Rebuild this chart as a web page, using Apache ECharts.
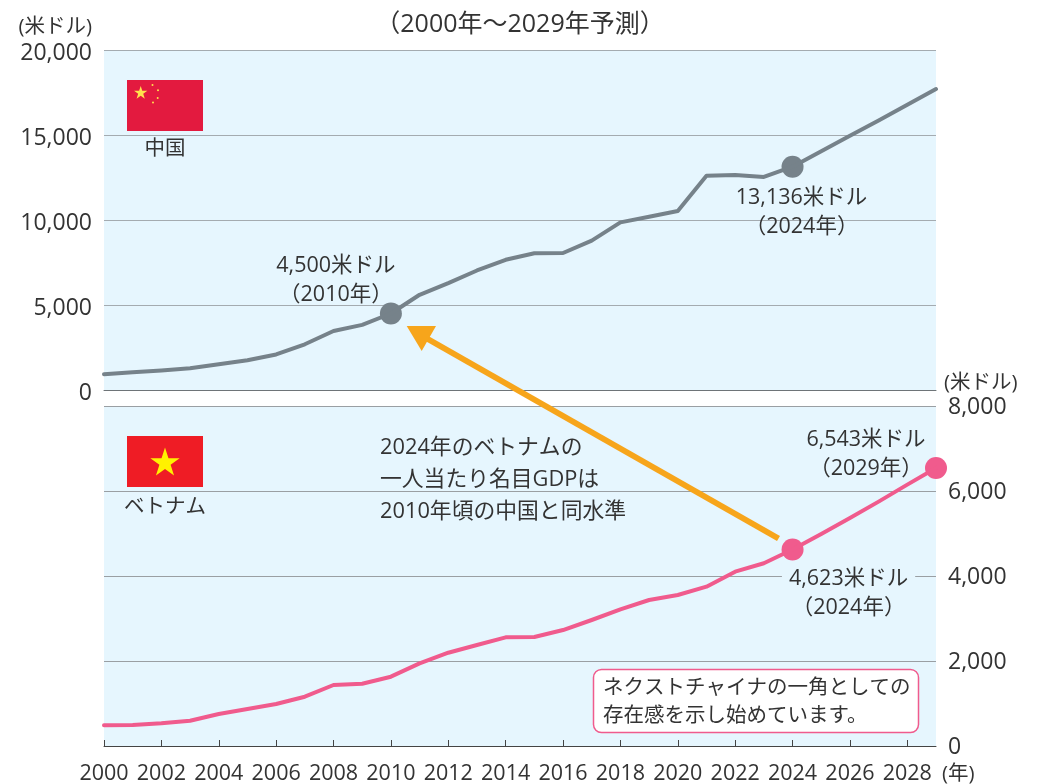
<!DOCTYPE html>
<html>
<head>
<meta charset="utf-8">
<script src="https://cdn.jsdelivr.net/npm/echarts@6/dist/echarts.min.js"></script>
<style>
html, body { margin: 0; padding: 0; background: #fff; }
#main { width: 1040px; height: 784px; }
</style>
</head>
<body>
<div id="main"></div>
<script>
var years = [];
for (var y = 2000; y <= 2029; y++) years.push(String(y));

// 中国 一人当たり名目GDP
var china = [930, 1050, 1150, 1280, 1510, 1750, 2090, 2690, 3470, 3830, 4500, 5600, 6290, 7030, 7660, 8040, 8060, 8790, 9860, 10190, 10530, 12600, 12650, 12530, 13136, 14050, 14950, 15850, 16780, 17700];
// ベトナム
var vietnam = [487, 494, 534, 595, 753, 870, 988, 1160, 1435, 1466, 1631, 1945, 2195, 2376, 2557, 2565, 2729, 2965, 3216, 3435, 3553, 3749, 4102, 4300, 4623, 4990, 5364, 5750, 6150, 6543];

var chinaTicks = [0, 5000, 10000, 15000, 20000];
var vietnamTicks = [0, 2000, 4000, 6000, 8000];

var titleText = '（2000年～2029年予測）';
var unitText = '(米ドル)';
var noteText = ['2024年のベトナムの', '一人当たり名目GDPは', '2010年頃の中国と同水準'];
var boxText = ['ネクストチャイナの一角としての', '存在感を示し始めています。'];

var FONT = '"Open Sans", "Noto Sans CJK JP", sans-serif';
var TEXT = '#333333';
var GREY = '#76828A';
var PINK = '#F05B8D';
var ORANGE = '#F7A51B';
var BG = '#E6F6FE';

function star(cx, cy, r) {
    var pts = [];
    for (var i = 0; i < 10; i++) {
        var rr = i % 2 ? r * 0.382 : r;
        var a = -Math.PI / 2 + i * Math.PI / 5;
        pts.push([cx + rr * Math.cos(a), cy + rr * Math.sin(a)]);
    }
    return pts;
}

function txt(x, y, text, align, size) {
    return {
        type: 'text', z: 20,
        style: {
            x: x, y: y, text: text, fill: TEXT,
            font: size + 'px ' + FONT,
            textAlign: align, textVerticalAlign: 'middle'
        }
    };
}

function dot(x, y) {
    return { type: 'circle', z: 11, shape: { cx: x, cy: y, r: 1 }, style: { fill: '#FFE34D' } };
}

function pointLabel(year, val, text, ox, oy, color, extra) {
    return {
        coord: [year, val],
        symbol: 'circle',
        symbolSize: 22,
        itemStyle: { color: color },
        label: Object.assign({
            show: true, position: 'inside', offset: [ox, oy],
            formatter: text, color: TEXT, fontFamily: FONT, fontSize: 21.5, lineHeight: 29, align: 'center'
        }, extra || {})
    };
}

var chart = echarts.init(document.getElementById('main'));

var axisLabelStyle = { color: TEXT, fontFamily: FONT, fontSize: 23 };

var option = {
    animation: false,
    title: {
        text: titleText, left: 'center', top: 7,
        textStyle: { color: TEXT, fontFamily: FONT, fontSize: 25, fontWeight: 'normal' }
    },
    grid: [
        { left: 104, right: 104, top: 50, height: 340, show: true, backgroundColor: BG, borderWidth: 0, outerBoundsMode: 'none' },
        { left: 104, right: 104, top: 406, height: 340, show: true, backgroundColor: BG, borderWidth: 0, outerBoundsMode: 'none' }
    ],
    xAxis: [
        {
            type: 'category', gridIndex: 0, data: years, boundaryGap: false,
            axisLine: { lineStyle: { color: '#6E7478', width: 1 } },
            axisTick: { show: false }, axisLabel: { show: false }
        },
        {
            type: 'category', gridIndex: 1, data: years, boundaryGap: false,
            axisLine: { lineStyle: { color: '#444', width: 1 } },
            axisTick: {
                inside: true, length: 6, lineStyle: { color: '#444' },
                interval: function (i) { return i % 2 === 0; }
            },
            axisLabel: Object.assign({
                margin: 17, hideOverlap: false,
                interval: function (i) { return i % 2 === 0; }
            }, axisLabelStyle, { fontSize: 21.5 })
        }
    ],
    yAxis: [
        {
            type: 'value', gridIndex: 0, min: chinaTicks[0], max: chinaTicks[4], interval: chinaTicks[1],
            name: unitText, nameLocation: 'end', nameGap: 13,
            nameTextStyle: { color: TEXT, fontFamily: FONT, fontSize: 20.5, align: 'right', padding: [0, 12, 0, 0] },
            axisLine: { show: false }, axisTick: { show: false },
            axisLabel: Object.assign({ margin: 12, verticalAlign: 'top', lineHeight: 6, formatter: function (v) { return v.toLocaleString('en-US'); } }, axisLabelStyle),
            splitLine: { lineStyle: { color: '#A4ABB0', width: 1 } }
        },
        {
            type: 'value', gridIndex: 1, position: 'right', min: vietnamTicks[0], max: vietnamTicks[4], interval: vietnamTicks[1],
            name: unitText, nameLocation: 'end', nameGap: 13,
            nameTextStyle: { color: TEXT, fontFamily: FONT, fontSize: 20.5, align: 'left', padding: [0, 0, 0, 8] },
            axisLine: { show: false }, axisTick: { show: false },
            axisLabel: Object.assign({ margin: 12, verticalAlign: 'top', lineHeight: 2, formatter: function (v) { return v.toLocaleString('en-US'); } }, axisLabelStyle),
            splitLine: { lineStyle: { color: '#9A9FA3', width: 1 } }
        }
    ],
    series: [
        {
            type: 'line', xAxisIndex: 0, yAxisIndex: 0, data: china, showSymbol: false, z: 5,
            lineStyle: { color: GREY, width: 4, cap: 'round', join: 'round' },
            markPoint: {
                silent: true, animation: false,
                data: [
                    pointLabel('2010', china[10], '4,500米ドル\n（2010年）', -55, -33, GREY),
                    pointLabel('2024', china[24], '13,136米ドル\n（2024年）', 9, 46, GREY)
                ]
            }
        },
        {
            type: 'line', xAxisIndex: 1, yAxisIndex: 1, data: vietnam, showSymbol: false, z: 5,
            lineStyle: { color: PINK, width: 4, cap: 'round', join: 'round' },
            markPoint: {
                silent: true, animation: false,
                data: [
                    pointLabel('2024', vietnam[24], '4,623米ドル\n（2024年）', 56, 44, PINK, { backgroundColor: BG, padding: [0, 7] }),
                    pointLabel('2029', vietnam[29], '6,543米ドル\n（2029年）', -70, -14, PINK)
                ]
            }
        }
    ],
    graphic: [
        // 中国の旗
        { type: 'rect', z: 10, shape: { x: 127, y: 80, width: 76, height: 51 }, style: { fill: '#E31A3F' } },
        { type: 'polygon', z: 11, shape: { points: star(140.7, 93, 7) }, style: { fill: '#FFE34D' } },
        dot(152.5, 85), dot(158, 90.3), dot(157.7, 98), dot(153, 102.5),
        txt(165, 149, '中国', 'center', 20.5),
        // ベトナムの旗
        { type: 'rect', z: 10, shape: { x: 127, y: 436, width: 76, height: 51 }, style: { fill: '#EF1C25' } },
        { type: 'polygon', z: 11, shape: { points: star(165, 463, 15.4) }, style: { fill: '#FFF200' } },
        txt(165, 507.5, 'ベトナム', 'center', 20.5),
        // 説明
        txt(380, 448, noteText[0], 'left', 21.8),
        txt(380, 480, noteText[1], 'left', 21.8),
        txt(380, 512, noteText[2], 'left', 21.8),
        // 矢印
        {
            type: 'line', z: 15,
            shape: { x1: 778.5, y1: 538.5, x2: 426, y2: 338 },
            style: { stroke: ORANGE, lineWidth: 6 }
        },
        {
            type: 'polygon', z: 15,
            shape: { points: [[406.7, 326], [436, 326], [421.7, 351]] },
            style: { fill: ORANGE }
        },
        // 囲み
        {
            type: 'rect', z: 16,
            shape: { x: 593.5, y: 669.5, width: 325, height: 63, r: 8 },
            style: { fill: '#fff', stroke: PINK, lineWidth: 1.5 }
        },
        txt(603, 688.5, boxText[0], 'left', 20.5),
        txt(603, 716.5, boxText[1], 'left', 20.5),
        txt(942, 774, '(年)', 'left', 20.5)
    ]
};

chart.setOption(option);
</script>
</body>
</html>
